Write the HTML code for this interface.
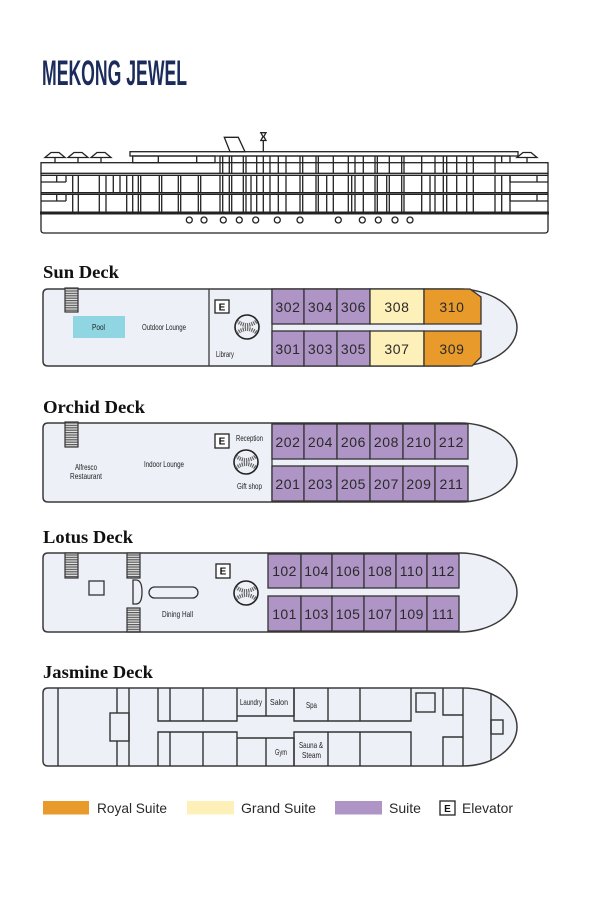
<!DOCTYPE html>
<html><head><meta charset="utf-8"><style>
html,body{margin:0;padding:0;background:#fff;}
svg{display:block;}
</style></head><body>
<svg width="602" height="908" viewBox="0 0 602 908" xmlns="http://www.w3.org/2000/svg">
<defs>
<pattern id="st" width="4" height="2.4" patternUnits="userSpaceOnUse"><rect width="4" height="2.4" fill="#e2e2e2"/><rect width="4" height="1.2" fill="#5a5a5a"/></pattern>
</defs>
<rect width="602" height="908" fill="#fff"/>

<!-- Title -->
<text x="42" y="85" font-family="Liberation Sans, sans-serif" font-weight="bold" font-size="35" fill="#1b2b5c" textLength="145" lengthAdjust="spacingAndGlyphs">MEKONG JEWEL</text>

<!-- Ship profile -->
<g fill="none" stroke="#222" stroke-width="1.3">
  <rect x="130" y="151.7" width="388" height="4.3" fill="#fff"/>
  <rect x="132.7" y="156" width="82.3" height="6.7"/>
  <path d="M158.3,156V162.7 M196.7,156V162.7"/>
  <rect x="41" y="162.7" width="507" height="10.6"/>
  <path d="M41,175.3H548 M41,192.7H548 M41,194.3H548"/>
  <path d="M41,173.3V212 M548,173.3V212"/>
  <path d="M220,156H503 M501.7,156V162.7 M510,156V162.7 M503,156H510"/>
  <path d="M220,156V173.3 M222.7,156V173.3 M229.3,156V173.3 M231.7,156V173.3 M243.3,156V173.3 M246,156V173.3 M256.7,156V173.3 M263.3,156V173.3 M270,156V173.3 M278.3,156V173.3 M286,156V173.3 M300,156V173.3 M302.7,156V173.3 M316,156V173.3 M318.3,156V173.3 M333.3,156V173.3 M348.3,156V173.3 M355,156V173.3 M363.3,156V173.3 M375,156V173.3 M377.3,156V173.3 M389.3,156V173.3 M401.7,156V173.3 M404,156V173.3 M421.7,156V173.3 M435,156V173.3 M443.3,156V173.3 M446.7,156V173.3 M456.7,156V173.3 M466.7,156V173.3 M473.3,156V173.3 M495,156V173.3"/>
  <path d="M56.7,175.3V182 M66,175.3V182 M41,182H66 M56.7,194.3V201 M66,194.3V201 M41,201H66 M510,175.3V182 M537,175.3V182 M510,182H548 M510,194.3V201 M537,194.3V201 M510,201H548"/>
  <path d="M72.7,175.3V192.7 M78.3,175.3V192.7 M99.3,175.3V192.7 M106,175.3V192.7 M113.3,175.3V192.7 M120,175.3V192.7 M126.7,175.3V192.7 M132.7,175.3V192.7 M138.3,175.3V192.7 M140.7,175.3V192.7 M159.3,175.3V192.7 M161.7,175.3V192.7 M178.3,175.3V192.7 M180.7,175.3V192.7 M198.3,175.3V192.7 M200.7,175.3V192.7 M220,175.3V192.7 M222.7,175.3V192.7 M229.3,175.3V192.7 M231.7,175.3V192.7 M243.3,175.3V192.7 M246,175.3V192.7 M251,175.3V192.7 M256.7,175.3V192.7 M263.3,175.3V192.7 M270,175.3V192.7 M278.3,175.3V192.7 M286,175.3V192.7 M300,175.3V192.7 M302.7,175.3V192.7 M316,175.3V192.7 M318.3,175.3V192.7 M326.7,175.3V192.7 M333.3,175.3V192.7 M348.3,175.3V192.7 M351.7,175.3V192.7 M355,175.3V192.7 M363.3,175.3V192.7 M375,175.3V192.7 M377.3,175.3V192.7 M386.7,175.3V192.7 M389.3,175.3V192.7 M401.7,175.3V192.7 M404,175.3V192.7 M421.7,175.3V192.7 M430,175.3V192.7 M435,175.3V192.7 M443.3,175.3V192.7 M446.7,175.3V192.7 M456.7,175.3V192.7 M466.7,175.3V192.7 M473.3,175.3V192.7 M495,175.3V192.7 M501.7,175.3V192.7 M510,175.3V192.7"/>
  <path d="M72.7,194.3V212 M78.3,194.3V212 M99.3,194.3V212 M106,194.3V212 M126.7,194.3V212 M132.7,194.3V212 M138.3,194.3V212 M140.7,194.3V212 M159.3,194.3V212 M161.7,194.3V212 M178.3,194.3V212 M180.7,194.3V212 M198.3,194.3V212 M200.7,194.3V212 M220,194.3V212 M222.7,194.3V212 M229.3,194.3V212 M231.7,194.3V212 M243.3,194.3V212 M246,194.3V212 M251,194.3V212 M256.7,194.3V212 M263.3,194.3V212 M270,194.3V212 M278.3,194.3V212 M286,194.3V212 M300,194.3V212 M302.7,194.3V212 M316,194.3V212 M318.3,194.3V212 M326.7,194.3V212 M333.3,194.3V212 M348.3,194.3V212 M351.7,194.3V212 M355,194.3V212 M363.3,194.3V212 M375,194.3V212 M377.3,194.3V212 M386.7,194.3V212 M389.3,194.3V212 M401.7,194.3V212 M404,194.3V212 M421.7,194.3V212 M430,194.3V212 M435,194.3V212 M443.3,194.3V212 M446.7,194.3V212 M456.7,194.3V212 M466.7,194.3V212 M473.3,194.3V212 M495,194.3V212 M501.7,194.3V212 M510,194.3V212"/>
  <path d="M41,213V230 Q41,233 44,233 H545 Q548,233 548,230 V213"/>
  <line x1="40" y1="213" x2="549" y2="213" stroke-width="3"/>
  <!-- umbrellas -->
  <path d="M45,157.5L51,152.5H59L65,157.5Z M55,157.5V162.7 M68,157.5L74,152.5H82L88,157.5Z M78,157.5V162.7 M91,157.5L97,152.5H105L111,157.5Z M101,157.5V162.7 M517,157.5L523,152.5H531L537,157.5Z M527,157.5V162.7" fill="#fff"/>
  <!-- funnel & mast -->
  <path d="M224.3,137.3H238.3L245,151.7H230Z" fill="#fff"/>
  <path d="M263.3,140.5V151.7"/>
  <path d="M260.8,132.7H266L263.8,136.6L266,140.5H260.8L263,136.6Z" fill="#fff"/>
  <!-- portholes -->
  <g stroke-width="1.3">
    <circle cx="189.3" cy="220" r="3"/><circle cx="204" cy="220" r="3"/><circle cx="223.3" cy="220" r="3"/><circle cx="239.3" cy="220" r="3"/><circle cx="255.7" cy="220" r="3"/><circle cx="277.3" cy="220" r="3"/><circle cx="300" cy="220" r="3"/><circle cx="338.3" cy="220" r="3"/><circle cx="362.3" cy="220" r="3"/><circle cx="378.3" cy="220" r="3"/><circle cx="395" cy="220" r="3"/><circle cx="410" cy="220" r="3"/>
  </g>
</g>

<!-- Deck titles -->
<g font-family="Liberation Serif, serif" font-weight="bold" font-size="18" fill="#111">
  <text x="43" y="278" textLength="76" lengthAdjust="spacingAndGlyphs">Sun Deck</text>
  <text x="43" y="413" textLength="102" lengthAdjust="spacingAndGlyphs">Orchid Deck</text>
  <text x="43" y="543" textLength="90" lengthAdjust="spacingAndGlyphs">Lotus Deck</text>
  <text x="43" y="678" textLength="110" lengthAdjust="spacingAndGlyphs">Jasmine Deck</text>
</g>

<!-- ================= SUN DECK ================= -->
<path d="M48,289 L458,289 A59 38.5 0 0 1 517,327.5 A59 38.5 0 0 1 458,366 L48,366 Q43,366 43,361 L43,294 Q43,289 48,289Z" fill="#edf0f7" stroke="#3a3a3a" stroke-width="1.5"/>
<path d="M209,289V366 M272,289V366" stroke="#3a3a3a" stroke-width="1.3"/>
<rect x="73" y="316" width="52" height="22" fill="#8fd6e2"/>
<rect x="65" y="288" width="13" height="24" fill="url(#st)" stroke="#333" stroke-width="1.2"/>
<g stroke="#333" stroke-width="1.3">
  <rect x="272" y="289" width="32" height="35" fill="#ae95c5"/>
  <rect x="304" y="289" width="33" height="35" fill="#ae95c5"/>
  <rect x="337" y="289" width="33" height="35" fill="#ae95c5"/>
  <rect x="370" y="289" width="54" height="35" fill="#fdf0b9"/>
  <path d="M424,289H470L481,297V324H424Z" fill="#e89a2a"/>
  <rect x="272" y="331" width="32" height="35" fill="#ae95c5"/>
  <rect x="304" y="331" width="33" height="35" fill="#ae95c5"/>
  <rect x="337" y="331" width="33" height="35" fill="#ae95c5"/>
  <rect x="370" y="331" width="54" height="35" fill="#fdf0b9"/>
  <path d="M424,331H481V357L472,366H424Z" fill="#e89a2a"/>
</g>
<g font-family="Liberation Sans, sans-serif" font-size="14" fill="#2a2a2a" text-anchor="middle" letter-spacing="0.6">
  <text x="288" y="312">302</text><text x="320.5" y="312">304</text><text x="353.5" y="312">306</text><text x="397" y="312">308</text><text x="452" y="312">310</text>
  <text x="288" y="354">301</text><text x="320.5" y="354">303</text><text x="353.5" y="354">305</text><text x="397" y="354">307</text><text x="452" y="354">309</text>
</g>

<!-- ================= ORCHID DECK ================= -->
<path d="M48,423 L460,423 A57 39.5 0 0 1 517,462.5 A57 39.5 0 0 1 460,502 L48,502 Q43,502 43,497 L43,428 Q43,423 48,423Z" fill="#edf0f7" stroke="#3a3a3a" stroke-width="1.5"/>
<path d="M272,423V502" stroke="#3a3a3a" stroke-width="1.3"/>
<rect x="65" y="422" width="13" height="25" fill="url(#st)" stroke="#333" stroke-width="1.2"/>
<g stroke="#333" stroke-width="1.3" fill="#ae95c5">
  <rect x="272" y="424" width="32" height="35"/><rect x="304" y="424" width="33" height="35"/><rect x="337" y="424" width="33" height="35"/><rect x="370" y="424" width="33" height="35"/><rect x="403" y="424" width="32" height="35"/><rect x="435" y="424" width="33" height="35"/>
  <rect x="272" y="466" width="32" height="35"/><rect x="304" y="466" width="33" height="35"/><rect x="337" y="466" width="33" height="35"/><rect x="370" y="466" width="33" height="35"/><rect x="403" y="466" width="32" height="35"/><rect x="435" y="466" width="33" height="35"/>
</g>
<g font-family="Liberation Sans, sans-serif" font-size="14" fill="#2a2a2a" text-anchor="middle" letter-spacing="0.6">
  <text x="288" y="447">202</text><text x="320.5" y="447">204</text><text x="353.5" y="447">206</text><text x="386.5" y="447">208</text><text x="419" y="447">210</text><text x="451.5" y="447">212</text>
  <text x="288" y="489">201</text><text x="320.5" y="489">203</text><text x="353.5" y="489">205</text><text x="386.5" y="489">207</text><text x="419" y="489">209</text><text x="451.5" y="489">211</text>
</g>

<!-- ================= LOTUS DECK ================= -->
<path d="M48,553 L460,553 A57 39.5 0 0 1 517,592.5 A57 39.5 0 0 1 460,632 L48,632 Q43,632 43,627 L43,558 Q43,553 48,553Z" fill="#edf0f7" stroke="#3a3a3a" stroke-width="1.5"/>
<rect x="65" y="553" width="13" height="25" fill="url(#st)" stroke="#333" stroke-width="1.2"/>
<rect x="127" y="553" width="13" height="25" fill="url(#st)" stroke="#333" stroke-width="1.2"/>
<rect x="127" y="608" width="13" height="24" fill="url(#st)" stroke="#333" stroke-width="1.2"/>
<rect x="89" y="581" width="15" height="14" fill="none" stroke="#333" stroke-width="1.3"/>
<path d="M133,580H136Q142,580 142,592Q142,604 136,604H133Z" fill="none" stroke="#333" stroke-width="1.3"/>
<rect x="149" y="587" width="49" height="11" rx="5.5" fill="none" stroke="#333" stroke-width="1.3"/>
<g stroke="#333" stroke-width="1.3" fill="#ae95c5">
  <rect x="268" y="554" width="33" height="34"/><rect x="301" y="554" width="31" height="34"/><rect x="332" y="554" width="32" height="34"/><rect x="364" y="554" width="32" height="34"/><rect x="396" y="554" width="31" height="34"/><rect x="427" y="554" width="32" height="34"/>
  <rect x="268" y="596" width="33" height="35"/><rect x="301" y="596" width="31" height="35"/><rect x="332" y="596" width="32" height="35"/><rect x="364" y="596" width="32" height="35"/><rect x="396" y="596" width="31" height="35"/><rect x="427" y="596" width="32" height="35"/>
</g>
<g font-family="Liberation Sans, sans-serif" font-size="14" fill="#2a2a2a" text-anchor="middle" letter-spacing="0.4">
  <text x="284.5" y="576">102</text><text x="316.5" y="576">104</text><text x="348" y="576">106</text><text x="380" y="576">108</text><text x="411.5" y="576">110</text><text x="443" y="576">112</text>
  <text x="284.5" y="619">101</text><text x="316.5" y="619">103</text><text x="348" y="619">105</text><text x="380" y="619">107</text><text x="411.5" y="619">109</text><text x="443" y="619">111</text>
</g>

<!-- Elevator boxes & stair globes -->
<g stroke="#222" stroke-width="1.3" fill="#fff">
  <rect x="215" y="300" width="14" height="13"/>
  <rect x="215" y="434" width="14" height="14"/>
  <rect x="216" y="564" width="14" height="14"/>
</g>
<g font-family="Liberation Sans, sans-serif" font-weight="bold" font-size="10" fill="#111" text-anchor="middle">
  <text x="222" y="310.5">E</text><text x="222" y="444.5">E</text><text x="223" y="574.5">E</text>
</g>
<g fill="#edf0f7" stroke="#222" stroke-width="1.6">
  <circle cx="247" cy="327" r="12"/><circle cx="246" cy="462" r="12"/><circle cx="246" cy="593" r="12"/>
</g>
<g fill="none" stroke="#666" stroke-width="4" stroke-dasharray="1.2 1">
  <path d="M237,321 Q247,329 257,321"/><path d="M237,333 Q247,325 257,333"/>
  <path d="M236,456 Q246,464 256,456"/><path d="M236,468 Q246,460 256,468"/>
  <path d="M236,587 Q246,595 256,587"/><path d="M236,599 Q246,591 256,599"/>
</g>

<!-- ================= JASMINE DECK ================= -->
<path d="M48,688 L463,688 A54 39 0 0 1 517,727 A54 39 0 0 1 463,766 L48,766 Q43,766 43,761 L43,693 Q43,688 48,688Z" fill="#edf0f7" stroke="#3a3a3a" stroke-width="1.5"/>
<g fill="none" stroke="#333" stroke-width="1.4">
  <path d="M58,688V766 M117,688V713 M117,741V766 M129,688V766"/>
  <rect x="110" y="713" width="19" height="28"/>
  <path d="M158,688V721H237V688 M170,688V721 M203,688V721"/>
  <path d="M237,716H294V688 M266,688V716"/>
  <path d="M294,688V721H411V688 M328,688V721 M360,688V721"/>
  <path d="M158,766V732H237V766 M170,732V766 M203,732V766"/>
  <path d="M237,738H294V766 M266,738V766"/>
  <path d="M294,766V732H411V766 M328,732V766 M360,732V766"/>
  <rect x="416" y="693" width="19" height="19"/>
  <path d="M443,688V715H463 M443,766V737H463 M463,688V766 M491,693.5V760.5"/>
  <rect x="491" y="720" width="12" height="14"/>
</g>

<!-- Small labels -->
<g font-family="Liberation Sans, sans-serif" font-size="8.5" fill="#222">
  <text x="92" y="330" textLength="13" lengthAdjust="spacingAndGlyphs">Pool</text>
  <text x="142" y="330" textLength="44" lengthAdjust="spacingAndGlyphs">Outdoor Lounge</text>
  <text x="216" y="357" textLength="18" lengthAdjust="spacingAndGlyphs">Library</text>
  <text x="236" y="441" textLength="27" lengthAdjust="spacingAndGlyphs">Reception</text>
  <text x="144" y="467" textLength="40" lengthAdjust="spacingAndGlyphs">Indoor Lounge</text>
  <text x="75" y="470" textLength="22" lengthAdjust="spacingAndGlyphs">Alfresco</text>
  <text x="70" y="479" textLength="32" lengthAdjust="spacingAndGlyphs">Restaurant</text>
  <text x="237" y="489" textLength="25" lengthAdjust="spacingAndGlyphs">Gift shop</text>
  <text x="162" y="617" textLength="31" lengthAdjust="spacingAndGlyphs">Dining Hall</text>
  <text x="240" y="705" textLength="22" lengthAdjust="spacingAndGlyphs">Laundry</text>
  <text x="270" y="705" textLength="18" lengthAdjust="spacingAndGlyphs">Salon</text>
  <text x="306" y="708" textLength="11" lengthAdjust="spacingAndGlyphs">Spa</text>
  <text x="275" y="755" textLength="12" lengthAdjust="spacingAndGlyphs">Gym</text>
  <text x="299" y="748" textLength="24" lengthAdjust="spacingAndGlyphs">Sauna &amp;</text>
  <text x="302" y="758" textLength="19" lengthAdjust="spacingAndGlyphs">Steam</text>
</g>

<!-- Legend -->
<rect x="43" y="801" width="46" height="13.5" fill="#e89a2a"/>
<rect x="187" y="801" width="47" height="13.5" fill="#fdf0b9"/>
<rect x="335" y="801" width="47" height="13.5" fill="#ae95c5"/>
<rect x="440" y="801" width="15" height="14" fill="#fff" stroke="#222" stroke-width="1.3"/>
<text x="447.5" y="812" font-family="Liberation Sans, sans-serif" font-weight="bold" font-size="10" fill="#111" text-anchor="middle">E</text>
<g font-family="Liberation Sans, sans-serif" font-size="14" fill="#2a2a2a">
  <text x="97" y="813" textLength="70" lengthAdjust="spacingAndGlyphs">Royal Suite</text>
  <text x="241" y="813" textLength="75" lengthAdjust="spacingAndGlyphs">Grand Suite</text>
  <text x="389" y="813" textLength="32" lengthAdjust="spacingAndGlyphs">Suite</text>
  <text x="462" y="813" textLength="51" lengthAdjust="spacingAndGlyphs">Elevator</text>
</g>
</svg>
</body></html>
